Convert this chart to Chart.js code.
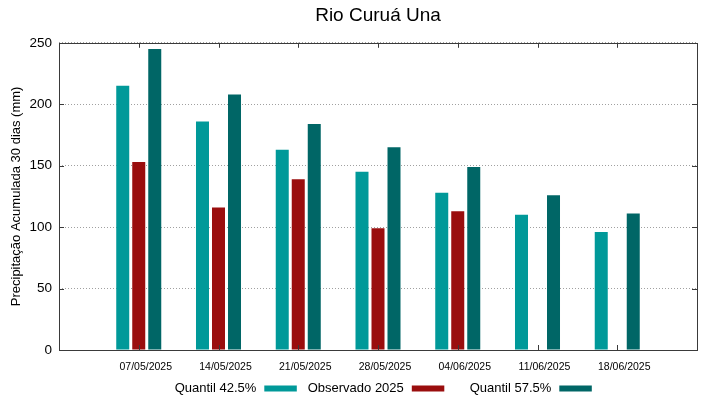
<!DOCTYPE html>
<html>
<head>
<meta charset="utf-8">
<script src="https://cdn.jsdelivr.net/npm/chart.js@4/dist/chart.umd.min.js"></script>
<style>
  html, body { margin: 0; padding: 0; background: #fff; }
  #wrap { width: 719px; height: 399px; position: relative; }
</style>
</head>
<body>
<div id="wrap"><canvas id="c" width="719" height="399"></canvas></div>
<script>
const chartTitle = 'Rio Curuá Una';
const yAxisTitle = 'Precipitação Acumulada 30 dias (mm)';
const dates = ['07/05/2025', '14/05/2025', '21/05/2025', '28/05/2025', '04/06/2025', '11/06/2025', '18/06/2025'];
const quantil425 = [215, 186, 163, 145, 128, 110, 96];
const observado2025 = [153, 116, 139, 99, 113, null, null];
const quantil575 = [245, 208, 184, 165, 149, 126, 111];
const seriesNames = ['Quantil 42.5%', 'Observado 2025', 'Quantil 57.5%'];
const seriesColors = ['#009999', '#9a0e0e', '#006666'];
const yTicks = [0, 50, 100, 150, 200, 250];

const FONT = "'Liberation Sans', Arial, sans-serif";
// pad categories with empty slots at both ends (axis runs one slot beyond first/last date)
const axisLabels = [''].concat(dates, ['']);
const pad = arr => [null].concat(arr, [null]);

const frameTicks = {
  id: 'frameTicks',
  afterDatasetsDraw(chart) {
    const { ctx, chartArea: a, scales } = chart;
    ctx.save();
    ctx.strokeStyle = '#3a3a3a';
    ctx.lineWidth = 1;
    const L = 5;
    ctx.beginPath();
    for (let i = 1; i <= dates.length; i++) {
      const x = Math.round(scales.x.getPixelForTick(i)) + 0.5;
      ctx.moveTo(x, a.bottom); ctx.lineTo(x, a.bottom - L);
      ctx.moveTo(x, a.top); ctx.lineTo(x, a.top + L);
    }
    yTicks.forEach(v => {
      const y = Math.round(scales.y.getPixelForValue(v)) + 0.5;
      ctx.moveTo(a.left, y); ctx.lineTo(a.left + L, y);
      ctx.moveTo(a.right, y); ctx.lineTo(a.right - L, y);
    });
    ctx.stroke();
    ctx.strokeRect(Math.round(a.left) + 0.5, Math.round(a.top) + 0.5,
                   Math.round(a.right - a.left), Math.round(a.bottom - a.top));
    ctx.restore();
  }
};

// gnuplot-style key: text right-aligned, then the sample box to its right
const keyLegend = {
  id: 'keyLegend',
  afterDraw(chart) {
    const { ctx, chartArea: a } = chart;
    const cx = (a.left + a.right) / 2;
    const colW = 147.5, boxW = 32.5, boxH = 6, gap = 8;
    const y = 388.5;
    ctx.save();
    ctx.font = '13px ' + FONT;
    ctx.textAlign = 'right';
    ctx.textBaseline = 'middle';
    chart.data.datasets.forEach((ds, i) => {
      const bx = cx - 113.7 + i * colW;
      ctx.fillStyle = '#000';
      ctx.fillText(ds.label, bx - gap, y);
      ctx.fillStyle = ds.backgroundColor;
      ctx.fillRect(bx, y - boxH / 2, boxW, boxH);
    });
    ctx.restore();
  }
};

new Chart(document.getElementById('c'), {
  type: 'bar',
  data: {
    labels: axisLabels,
    datasets: [
      { label: seriesNames[0], data: pad(quantil425), backgroundColor: seriesColors[0] },
      { label: seriesNames[1], data: pad(observado2025), backgroundColor: seriesColors[1] },
      { label: seriesNames[2], data: pad(quantil575), backgroundColor: seriesColors[2] }
    ]
  },
  options: {
    responsive: false,
    animation: false,
    devicePixelRatio: 1,
    datasets: { bar: { categoryPercentage: 0.602, barPercentage: 0.8125 } },
    layout: { padding: { left: 0, right: 22, top: 0, bottom: 23 } },
    plugins: {
      title: {
        display: true, text: chartTitle, fullSize: false,
        color: '#000', font: { family: FONT, size: 19, weight: 'normal' },
        padding: { top: 4, bottom: 16 }
      },
      legend: { display: false },
      tooltip: { enabled: false }
    },
    scales: {
      x: {
        offset: false,
        afterFit(s) { s.height = 26; },
        grid: { display: false, drawTicks: false },
        border: { display: false },
        ticks: { color: '#000', font: { family: FONT, size: 10.5 }, padding: 11, labelOffset: 7, maxRotation: 0, autoSkip: false }
      },
      y: {
        min: 0, max: 250,
        afterFit(s) { s.width = 59; },
        grid: { color: '#a0a0a0', lineWidth: 1, drawTicks: false },
        border: { display: false, dash: [1, 2] },
        ticks: { stepSize: 50, color: '#000', font: { family: FONT, size: 13.5 }, padding: 7 },
        title: { display: true, text: yAxisTitle, color: '#000', font: { family: FONT, size: 13 }, padding: { top: 9, bottom: 0 } }
      }
    }
  },
  plugins: [frameTicks, keyLegend]
});
</script>
</body>
</html>
